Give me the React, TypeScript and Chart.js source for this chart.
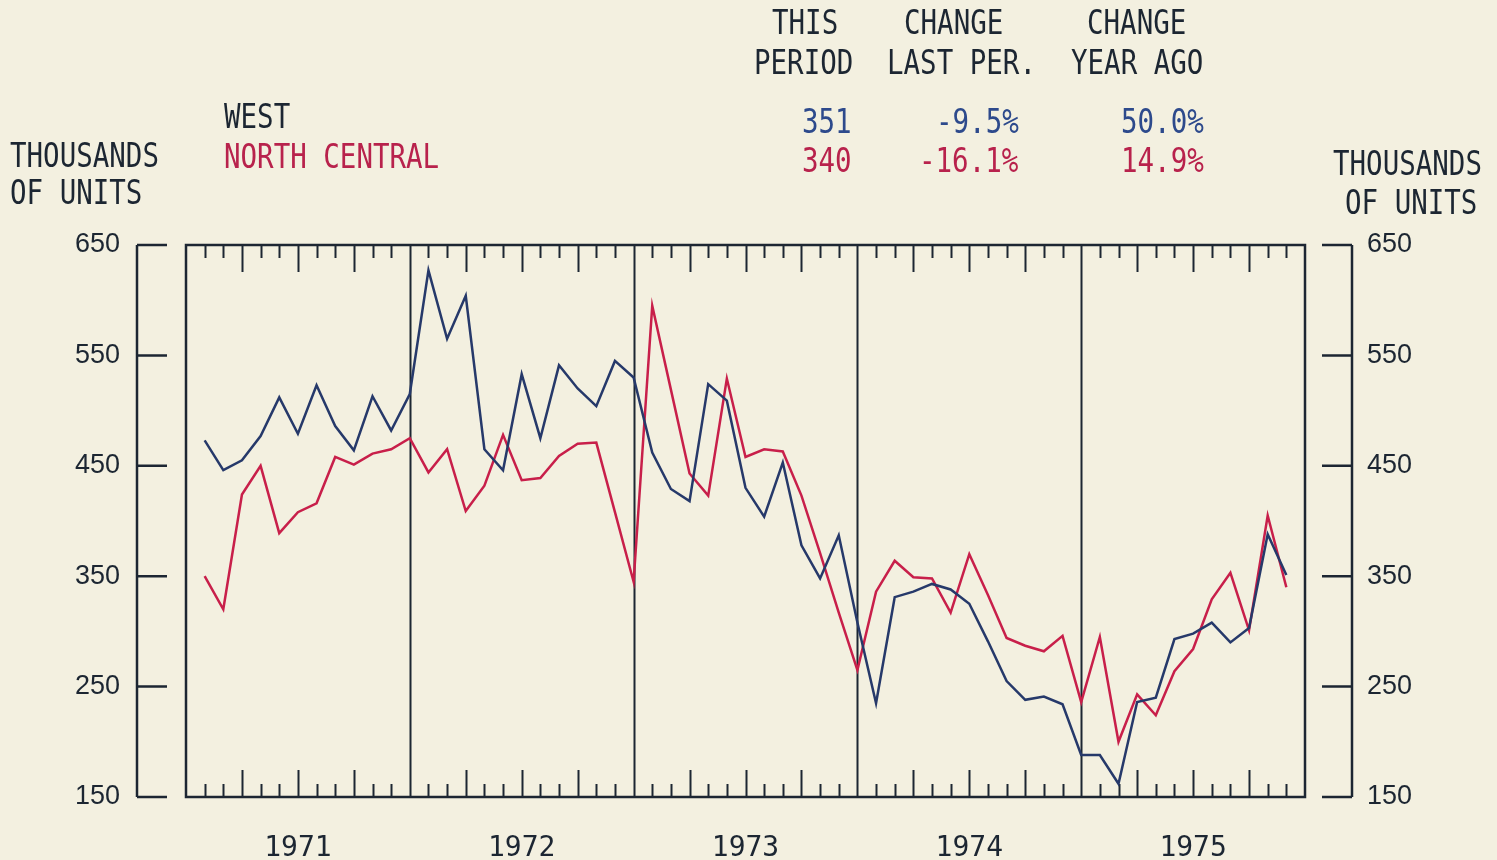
import React, { useEffect, useRef } from "react";
import { Chart, registerables } from "chart.js";

Chart.register(...registerables);

// ---- data (monthly, Jan 1971 .. Nov 1975), thousands of units ----
const YEARS = ["1971", "1972", "1973", "1974", "1975"];

const WEST = [
  473, 446, 455, 477, 512, 479, 523, 486, 464, 513, 482, 515,
  627, 565, 604, 465, 446, 533, 475, 541, 520, 504, 545, 530,
  462, 429, 418, 524, 509, 430, 404, 453, 378, 348, 387, 308,
  235, 331, 336, 343, 338, 325, 291, 255, 238, 241, 234, 188,
  188, 162, 236, 240, 293, 298, 308, 290, 303, 388, 351,
];

const NORTH_CENTRAL = [
  350, 320, 424, 450, 389, 408, 416, 458, 451, 461, 465, 475,
  444, 465, 409, 432, 478, 437, 439, 459, 470, 471, 408, 345,
  595, 519, 443, 423, 529, 458, 465, 463, 423, 371, 317, 265,
  336, 364, 349, 348, 317, 370, 333, 294, 287, 282, 296, 236,
  295, 200, 243, 224, 264, 284, 329, 353, 301, 405, 340,
];

const Y_TICKS = [150, 250, 350, 450, 550, 650];

const SUMMARY_HEAD_1 = ["THIS", "CHANGE", "CHANGE"];
const SUMMARY_HEAD_2 = ["PERIOD", "LAST PER.", "YEAR AGO"];
const SUMMARY_WEST = ["351", "-9.5%", "50.0%"];
const SUMMARY_NC = ["340", "-16.1%", "14.9%"];

// ---- styles ----
const PAPER = "#f3f0e0";
const INK = "#1c2632";
const BLUE = "#26396a";
const RED = "#c81f4a";
const TXT_BLUE = "#2d4a8c";
const TXT_RED = "#b8224c";
const MONTHS_PER_YEAR = 12;
const PITCH = 16.5;

function Txt(props: { x: number; cy: number; text: string; color?: string; right?: boolean }) {
  const { x, cy, text, color, right } = props;
  const left = right ? x - text.length * PITCH : x;
  return (
    <div
      style={{
        position: "absolute",
        left,
        top: cy - 19.4,
        fontFamily: "'DejaVu Sans Mono', monospace",
        fontSize: 33,
        lineHeight: "40px",
        whiteSpace: "pre",
        color: color || INK,
        transform: "scaleX(0.833)",
        transformOrigin: "0 0",
      }}
    >
      {text}
    </div>
  );
}

const framePlugin = {
  id: "plotterFrame",
  beforeDraw(chart: any) {
    const { ctx, width, height } = chart;
    ctx.save();
    ctx.fillStyle = PAPER;
    ctx.fillRect(0, 0, width, height);
    ctx.restore();
  },
  beforeDatasetsDraw(chart: any) {
    const { ctx, chartArea: a, scales } = chart;
    const xs = scales.x;
    const ys = scales.y;
    ctx.save();
    ctx.strokeStyle = INK;
    ctx.lineWidth = 2.5;
    ctx.strokeRect(a.left, a.top, a.right - a.left, a.bottom - a.top);
    const total = YEARS.length * MONTHS_PER_YEAR;
    ctx.lineWidth = 2;
    ctx.beginPath();
    for (let m = 1; m < total; m++) {
      const px = Math.round(xs.getPixelForValue(m)) + 0.5;
      if (m % MONTHS_PER_YEAR === 0) {
        ctx.moveTo(px, a.top);
        ctx.lineTo(px, a.bottom);
      } else {
        const len = m % 3 === 0 ? 27 : 13;
        ctx.moveTo(px, a.top);
        ctx.lineTo(px, a.top + len);
        ctx.moveTo(px, a.bottom);
        ctx.lineTo(px, a.bottom - len);
      }
    }
    ctx.stroke();

    // side brackets
    const yTop = ys.getPixelForValue(Y_TICKS[Y_TICKS.length - 1]);
    const yBot = ys.getPixelForValue(Y_TICKS[0]);
    ctx.lineWidth = 2.5;
    ctx.beginPath();
    const lx = 137;
    const rx = 1352;
    ctx.moveTo(lx, yTop);
    ctx.lineTo(lx, yBot);
    ctx.moveTo(rx, yTop);
    ctx.lineTo(rx, yBot);
    for (const v of Y_TICKS) {
      const py = ys.getPixelForValue(v);
      ctx.moveTo(lx, py);
      ctx.lineTo(lx + 30, py);
      ctx.moveTo(rx, py);
      ctx.lineTo(rx - 30, py);
    }
    ctx.stroke();
    ctx.restore();
  },
};

export default function App() {
  const ref = useRef<HTMLCanvasElement | null>(null);

  useEffect(() => {
    if (!ref.current) return;
    const tickFont = { family: "'Liberation Sans', Arial, sans-serif", size: 27 };
    const yearFont = { family: "'DejaVu Sans Mono', monospace", size: 28 };
    const chart = new Chart(ref.current, {
      type: "line",
      data: {
        datasets: [
          {
            label: "WEST",
            data: WEST.map((v, i) => ({ x: i + 1, y: v })),
            borderColor: BLUE,
            borderWidth: 2.5,
            pointRadius: 0,
            tension: 0,
            yAxisID: "y",
          },
          {
            label: "NORTH CENTRAL",
            data: NORTH_CENTRAL.map((v, i) => ({ x: i + 1, y: v })),
            borderColor: RED,
            borderWidth: 2.5,
            pointRadius: 0,
            tension: 0,
            yAxisID: "y",
          },
        ],
      },
      options: {
        responsive: false,
        animation: false,
        devicePixelRatio: 1,
        layout: { padding: { top: 245, right: 85, bottom: 0, left: 75 } },
        plugins: { legend: { display: false }, tooltip: { enabled: false } },
        scales: {
          x: {
            type: "linear",
            min: 0,
            max: YEARS.length * MONTHS_PER_YEAR,
            grid: { display: false },
            border: { display: false },
            ticks: {
              font: yearFont,
              color: INK,
              padding: 27,
              maxRotation: 0,
              autoSkip: false,
              callback: (_v: any, i: number) => YEARS[i],
            },
            afterBuildTicks: (s: any) => {
              s.ticks = YEARS.map((_, i) => ({ value: i * MONTHS_PER_YEAR + MONTHS_PER_YEAR / 2 }));
            },
            afterFit: (s: any) => {
              s.height = 63;
            },
          },
          y: {
            type: "linear",
            position: "left",
            min: Y_TICKS[0],
            max: Y_TICKS[Y_TICKS.length - 1],
            grid: { display: false },
            border: { display: false },
            ticks: { font: tickFont, color: INK, padding: 0, crossAlign: "far" },
            afterBuildTicks: (s: any) => {
              s.ticks = Y_TICKS.map((v) => ({ value: v }));
            },
            afterFit: (s: any) => {
              s.width = 111;
            },
          },
          y2: {
            type: "linear",
            position: "right",
            min: Y_TICKS[0],
            max: Y_TICKS[Y_TICKS.length - 1],
            grid: { display: false },
            border: { display: false },
            ticks: { font: tickFont, color: INK, padding: 0, crossAlign: "far" },
            afterBuildTicks: (s: any) => {
              s.ticks = Y_TICKS.map((v) => ({ value: v }));
            },
            afterFit: (s: any) => {
              s.width = 107;
            },
          },
        },
      },
      plugins: [framePlugin],
    } as any);
    return () => chart.destroy();
  }, []);

  const colEnd = [851, 1018, 1203];
  const head1X = [772, 904, 1087];
  const head2X = [754, 887, 1071];

  return (
    <div
      style={{
        position: "fixed",
        left: 0,
        top: 0,
        width: 1497,
        height: 860,
        background: PAPER,
        overflow: "hidden",
      }}
    >
      <canvas ref={ref} width={1497} height={860} style={{ position: "absolute", left: 0, top: 0 }} />
      {SUMMARY_HEAD_1.map((t, i) => (
        <Txt key={"h1" + i} x={head1X[i]} cy={22} text={t} />
      ))}
      {SUMMARY_HEAD_2.map((t, i) => (
        <Txt key={"h2" + i} x={head2X[i]} cy={62} text={t} />
      ))}
      <Txt x={224} cy={116} text="WEST" />
      <Txt x={224} cy={156} text="NORTH CENTRAL" color={TXT_RED} />
      {SUMMARY_WEST.map((t, i) => (
        <Txt key={"w" + i} x={colEnd[i]} cy={121} text={t} color={TXT_BLUE} right />
      ))}
      {SUMMARY_NC.map((t, i) => (
        <Txt key={"n" + i} x={colEnd[i]} cy={160} text={t} color={TXT_RED} right />
      ))}
      <Txt x={10} cy={155} text="THOUSANDS" />
      <Txt x={10} cy={192} text="OF UNITS" />
      <Txt x={1333} cy={163} text="THOUSANDS" />
      <Txt x={1345} cy={202} text="OF UNITS" />
    </div>
  );
}
